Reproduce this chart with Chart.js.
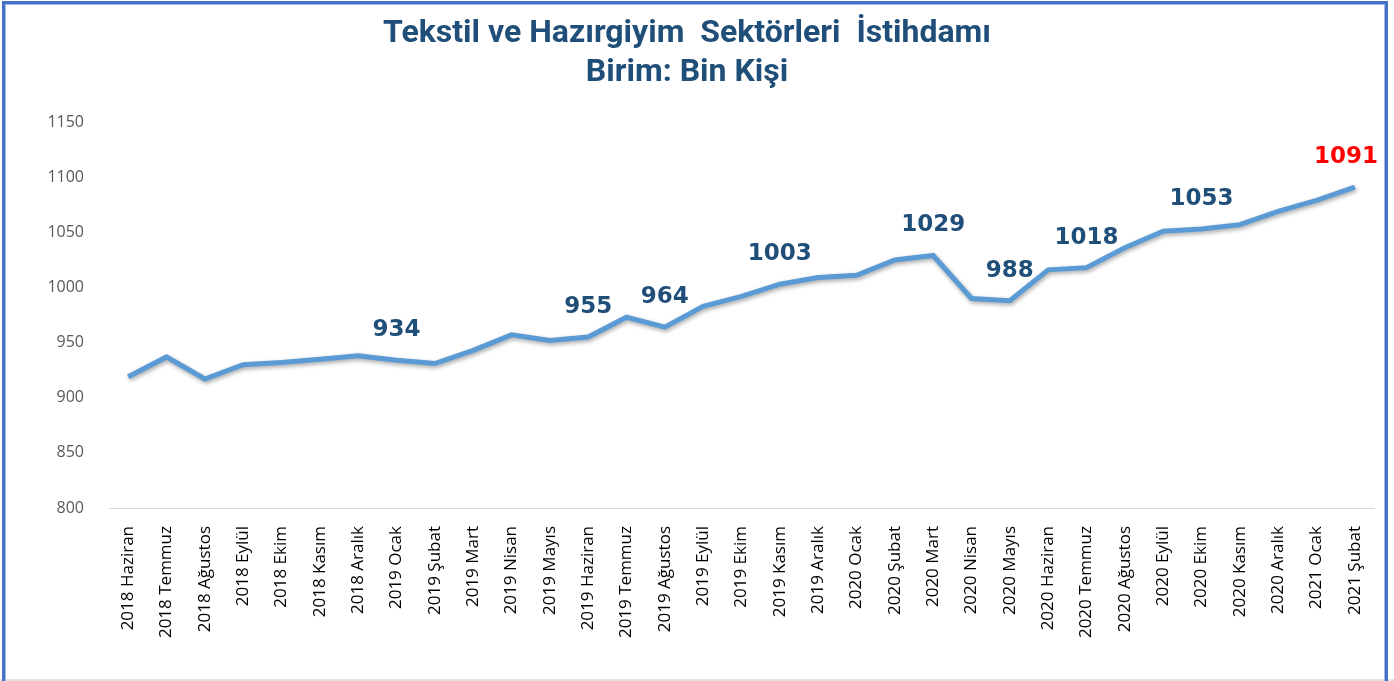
<!DOCTYPE html>
<html lang="tr">
<head>
<meta charset="utf-8">
<title>Tekstil ve Hazırgiyim Sektörleri İstihdamı</title>
<script src="https://cdn.jsdelivr.net/npm/chart.js@4"></script>
<style>
    html, body { margin: 0; padding: 0; background: #fff; }
    #wrap { position: relative; width: 1394px; height: 681px; overflow: hidden; }
    #frame {
        position: absolute; left: 2px; top: 1px; width: 1380px; height: 700px;
        border: 3px solid #4472C4; border-bottom: none;
        box-shadow: inset 1px 1px 0 #9DB9E8, inset -1px 0 0 #9DB9E8;
        pointer-events: none;
    }
    #bottomLine { position: absolute; left: 0; top: 679px; width: 1394px; height: 2px; background: #e3e3e3; }
</style>
</head>
<body>
<div id="wrap">
    <canvas id="chart" width="1394" height="681"></canvas>
    <div id="bottomLine"></div>
    <div id="frame"></div>
</div>
<script>
// Months on the x axis
const months = [
    "2018 Haziran", "2018 Temmuz", "2018 Ağustos", "2018 Eylül", "2018 Ekim", "2018 Kasım", "2018 Aralık",
    "2019 Ocak", "2019 Şubat", "2019 Mart", "2019 Nisan", "2019 Mayıs", "2019 Haziran", "2019 Temmuz",
    "2019 Ağustos", "2019 Eylül", "2019 Ekim", "2019 Kasım", "2019 Aralık",
    "2020 Ocak", "2020 Şubat", "2020 Mart", "2020 Nisan", "2020 Mayıs", "2020 Haziran", "2020 Temmuz",
    "2020 Ağustos", "2020 Eylül", "2020 Ekim", "2020 Kasım", "2020 Aralık",
    "2021 Ocak", "2021 Şubat"
];

// Employment, thousand people
const employment = [
    919, 937, 917, 930, 932, 935, 938,
    934, 931, 943, 957, 952, 955, 973,
    964, 983, 992, 1003, 1009,
    1011, 1025, 1029, 990, 988, 1016, 1018,
    1036, 1051, 1053, 1057, 1069,
    1079, 1091
];

// Points that carry a value label, the last one is red
const labelledIndex = [7, 12, 14, 17, 21, 23, 25, 28, 32];
const yTicks = [800, 850, 900, 950, 1000, 1050, 1100, 1150];

// Soft shadow under the line
const lineShadow = {
    id: "lineShadow",
    beforeDatasetDraw(chart) {
        const ctx = chart.ctx;
        ctx.save();
        ctx.shadowColor = "rgba(0,0,0,0.35)";
        ctx.shadowBlur = 4;
        ctx.shadowOffsetX = 1;
        ctx.shadowOffsetY = 2;
    },
    afterDatasetDraw(chart) {
        chart.ctx.restore();
    }
};

// Value labels above the selected points
const valueLabels = {
    id: "valueLabels",
    afterDatasetsDraw(chart) {
        const ctx = chart.ctx;
        const meta = chart.getDatasetMeta(0);
        const area = chart.chartArea;
        ctx.save();
        ctx.font = "bold 23px 'DejaVu Sans'";
        ctx.textBaseline = "middle";
        ctx.textAlign = "center";
        labelledIndex.forEach(i => {
            const pt = meta.data[i];
            const text = String(employment[i]);
            const w = ctx.measureText(text).width;
            let x = pt.x;
            if (x + w / 2 > area.right + 4) x = area.right + 4 - w / 2;
            ctx.fillStyle = i === employment.length - 1 ? "#FF0000" : "#1F4E79";
            ctx.fillText(text, x, pt.y - 30);
        });
        ctx.restore();
    }
};

new Chart(document.getElementById("chart"), {
    type: "line",
    data: {
        labels: months,
        datasets: [{
            data: employment,
            borderColor: "#5B9BD5",
            borderWidth: 5,
            pointRadius: 0,
            tension: 0,
            fill: false
        }]
    },
    options: {
        responsive: false,
        animation: false,
        layout: { padding: { left: 0, right: 20, top: 0, bottom: 0 } },
        plugins: {
            legend: { display: false },
            tooltip: { enabled: false },
            title: {
                display: true,
                text: ["Tekstil ve Hazırgiyim  Sektörleri  İstihdamı", "Birim: Bin Kişi"],
                color: "#1F4E79",
                font: { family: "Roboto", size: 32, weight: "bold", lineHeight: 1.22 },
                padding: { top: 14, bottom: 30 }
            }
        },
        scales: {
            x: {
                offset: true,
                grid: { display: false },
                border: { display: true, color: "#D9D9D9", width: 1 },
                ticks: {
                    color: "#000",
                    font: { family: "Open Sans", size: 17 },
                    minRotation: 90,
                    maxRotation: 90,
                    autoSkip: false,
                    padding: 10
                },
                afterFit(scale) { scale.height = 173; }
            },
            y: {
                min: 800,
                max: 1150,
                grid: { display: false },
                border: { display: false },
                ticks: {
                    color: "#595959",
                    font: { family: "Open Sans", size: 16 },
                    padding: 17,
                    callback: (v) => String(v)
                },
                afterBuildTicks(scale) { scale.ticks = yTicks.map(v => ({ value: v })); },
                afterFit(scale) { scale.width = 109; }
            }
        }
    },
    plugins: [lineShadow, valueLabels]
});
</script>
</body>
</html>
